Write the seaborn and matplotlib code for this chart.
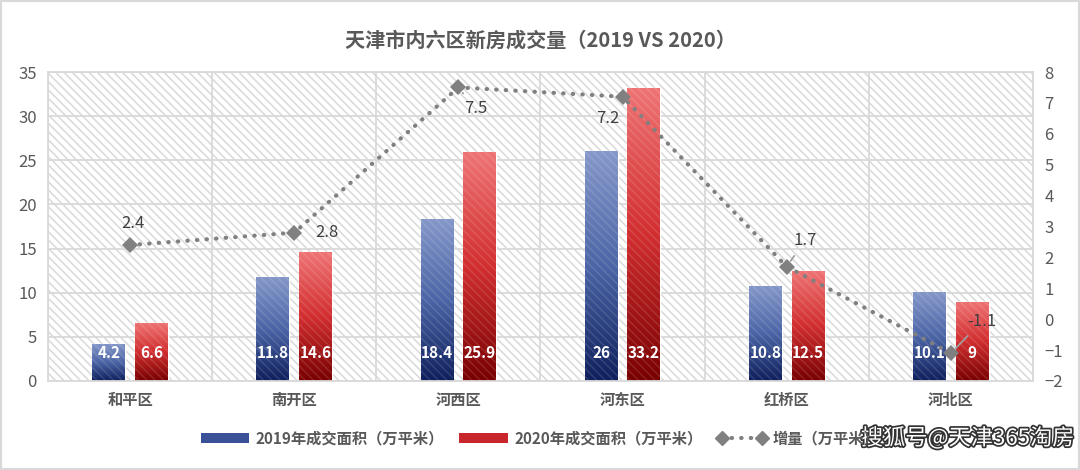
import numpy as np
import pandas as pd
import matplotlib
matplotlib.use("Agg")
import matplotlib.pyplot as plt
import matplotlib.patheffects as pe
from matplotlib.patches import Rectangle, Patch
from matplotlib.lines import Line2D
from matplotlib.colors import LinearSegmentedColormap
import seaborn as sns

# ---------- data ----------
districts = ["和平区", "南开区", "河西区", "河东区", "红桥区", "河北区"]
area_2019 = [4.2, 11.8, 18.4, 26, 10.8, 10.1]
area_2020 = [6.6, 14.6, 25.9, 33.2, 12.5, 9]
increase = [2.4, 2.8, 7.5, 7.2, 1.7, -1.1]
series = ["2019年成交面积（万平米）", "2020年成交面积（万平米）"]
line_name = "增量（万平米）"

sns.set_style("white")
plt.rcParams["font.family"] = ["Noto Sans CJK SC", "DejaVu Sans"]
plt.rcParams["hatch.linewidth"] = 1.1

GRID = "#d9d9d9"
TXT = "#595959"
HATCH = "\\" * 4

df = pd.DataFrame({
    "district": districts * 2,
    "area": area_2019 + area_2020,
    "year": [series[0]] * 6 + [series[1]] * 6,
})

fig = plt.figure(figsize=(10.8, 4.7), dpi=100)
ax = fig.add_axes([0.0444, 0.1894, 0.9121, 0.6574])

sns.barplot(data=df, x="district", y="area", hue="year", order=districts,
            palette=["#3b5197", "#c8262a"], width=0.52, gap=0.23,
            ax=ax, legend=False, zorder=2)
bars = sorted([p for p in ax.patches if p.get_height() > 0], key=lambda p: p.get_x())

# hatched plot background
ax.add_patch(Rectangle((0, 0), 1, 1, transform=ax.transAxes, hatch=HATCH,
                       fill=False, edgecolor="#d9d9d9", lw=0, zorder=0))

# gradient fill on each bar
cmaps = [LinearSegmentedColormap.from_list("b", ["#0e1f5c", "#4c65a6", "#8598ca"]),
         LinearSegmentedColormap.from_list("r", ["#780000", "#d22e30", "#ef7474"])]
grad = np.linspace(0, 1, 256).reshape(-1, 1)
for p in bars:
    x0, w, h = p.get_x(), p.get_width(), p.get_height()
    fc = p.get_facecolor()
    ci = 0 if fc[2] > fc[0] else 1
    im = ax.imshow(grad, extent=[x0, x0 + w, 0, h], origin="lower", aspect="auto",
                   cmap=cmaps[ci], zorder=2.5)
    im.set_clip_path(p)
    ax.add_patch(Rectangle((x0, 0), w, h, hatch=HATCH, fill=False,
                           edgecolor=(1, 1, 1, 0.12), lw=0, zorder=2.6))
    ax.annotate(f"{h:g}", xy=(x0 + w / 2, 0), xytext=(0, 28), textcoords="offset pixels",
                ha="center", va="center", color="white", fontsize=11,
                fontweight="bold", zorder=4)

ax.set_xlim(-0.5, len(districts) - 0.5)
ax.set_ylim(0, 35)
ax.set_yticks(range(0, 36, 5))
ax.set_xticks(range(len(districts)))
ax.set_xticklabels(districts, fontsize=11, fontweight="bold", color=TXT)
ax.set_xticks(np.arange(-0.5, len(districts), 1), minor=True)
ax.tick_params(axis="y", labelsize=12, colors=TXT, length=0, pad=8)
ax.tick_params(axis="x", which="both", length=0, pad=8)
ax.grid(axis="y", color=GRID, lw=1.3, zorder=1)
ax.grid(axis="x", which="minor", color=GRID, lw=1.3, zorder=1)
ax.set_axisbelow(True)
ax.set_xlabel("")
ax.set_ylabel("")
for s in ax.spines.values():
    s.set_color(GRID)
    s.set_linewidth(1.3)

# secondary axis: increase
ax2 = ax.twinx()
sns.lineplot(x=np.arange(len(districts)), y=increase, ax=ax2, color="#808080",
             lw=3, marker="D", markersize=8, markeredgewidth=0,
             linestyle=(0, (0.1, 2.2)), dash_capstyle="round", zorder=5)
ax2.set_ylim(-2, 8)
ax2.set_yticks(range(-2, 9))
ax2.tick_params(axis="y", labelsize=12, colors=TXT, length=0, pad=8)
for s in ax2.spines.values():
    s.set_visible(False)

offsets = [(3, 22), (33, 0), (17, -21), (-15, -22), (18, 26), (31, 32)]
leaders = [False, False, True, False, True, True]
for i, (v, off, ld) in enumerate(zip(increase, offsets, leaders)):
    ap = dict(arrowstyle="-", color="#a0a0a0", lw=1.3, shrinkA=3, shrinkB=5) if ld else None
    ax2.annotate(f"{v:g}", xy=(i, v), xytext=off, textcoords="offset pixels",
                 ha="center", va="center", fontsize=12, color="#404040",
                 arrowprops=ap, zorder=6)

# title
fig.text(0.5, 0.915, "天津市内六区新房成交量（2019 VS 2020）", ha="center", va="center",
         fontsize=14.5, fontweight="bold", color=TXT)

# legend
handles = [Patch(facecolor="#3b5197", edgecolor="none"),
           Patch(facecolor="#c8262a", edgecolor="none"),
           Line2D([], [], color="#808080", lw=3, marker="D", markersize=7,
                  linestyle=(0, (0.1, 2.2)), dash_capstyle="round")]
fig.legend(handles, series + [line_name], loc="center", bbox_to_anchor=(0.5, 0.068),
           ncol=3, frameon=False, handlelength=3.2, handleheight=0.6, numpoints=2,
           columnspacing=1.0, handletextpad=0.4, labelcolor=TXT,
           prop={"weight": "bold", "size": 11})

# watermark
fig.text(0.995, 0.068, "搜狐号@天津365淘房", ha="right", va="center", fontsize=16,
         color="white", path_effects=[pe.withStroke(linewidth=2.5, foreground="#333333")])

# outer border
fig.patches.append(Rectangle((0, 0), 1, 1, transform=fig.transFigure, fill=False,
                             edgecolor=GRID, lw=3))

fig.savefig("out.png", dpi=100)
